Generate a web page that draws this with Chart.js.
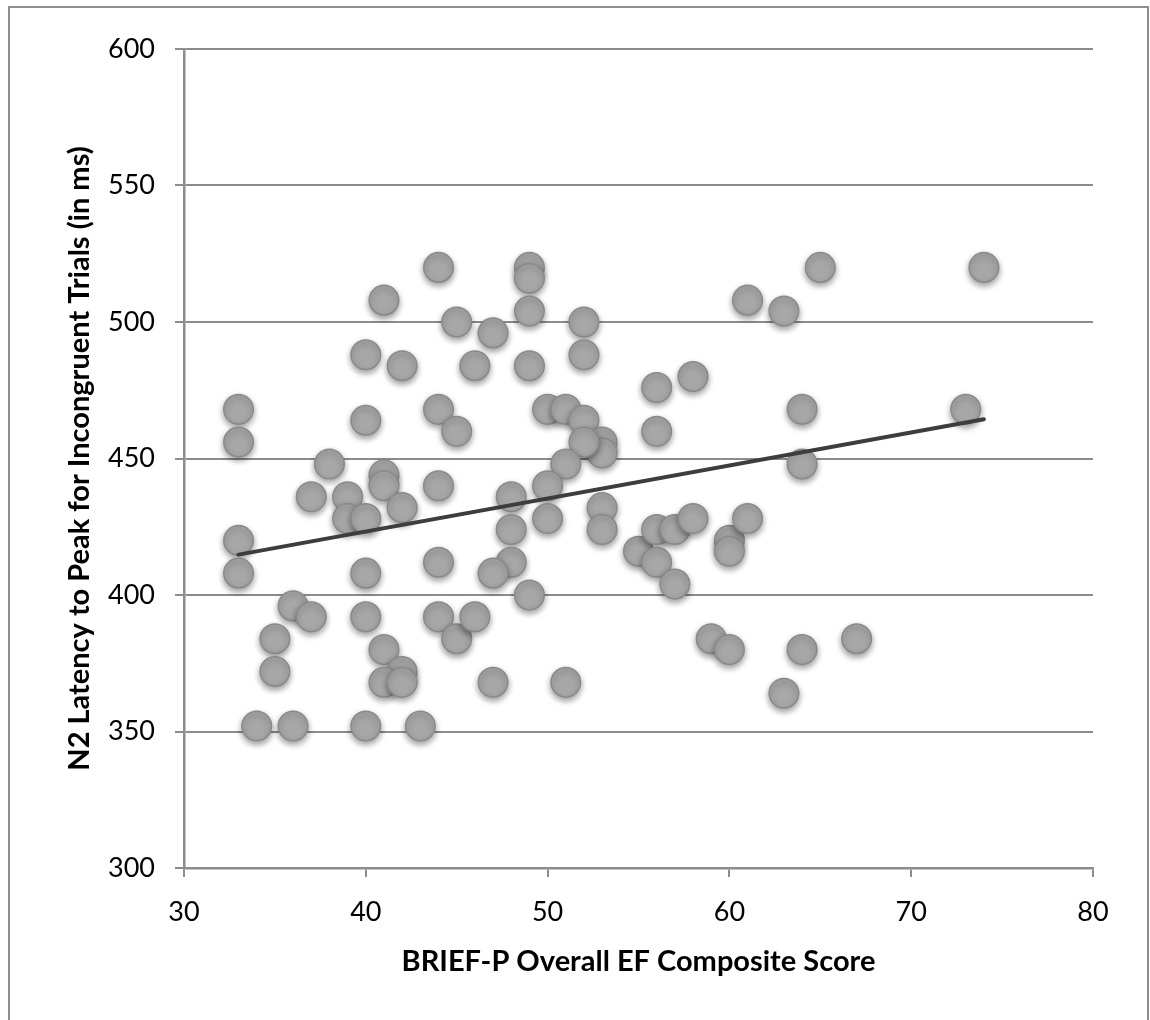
<!DOCTYPE html>
<html><head><meta charset="utf-8">
<script src="https://cdn.jsdelivr.net/npm/chart.js@4/dist/chart.umd.min.js"></script>
<style>
html,body{margin:0;padding:0;background:#fff;overflow:hidden}
#wrap{position:relative;width:1150px;height:1020px}
#frame{position:absolute;left:8px;top:6px;width:1141px;height:1040px;border:2.5px solid #8e8e8e;box-sizing:border-box;pointer-events:none}
canvas{position:absolute;left:0;top:0}
</style></head>
<body><div id="wrap"><canvas id="c" width="1150" height="1020"></canvas><div id="frame"></div></div>
<script>
// BRIEF-P Overall EF Composite Score (x) for each child
const briefScores = [
  44,41,45,40,42,46,33,33,40,44,45,38,37,39,41,41,44,39,40,42,
  33,33,40,44,36,37,35,35,40,41,42,41,42,44,45,46,34,36,40,43,
  49,49,47,49,52,52,49,56,58,50,51,52,53,53,52,56,51,50,48,50,
  53,53,48,48,47,49,55,56,56,57,58,57,47,51,61,63,65,64,64,60,
  60,61,59,60,64,67,63,74,73
];
// N2 latency to peak for incongruent trials (ms), same order
const n2Latency = [
  520,508,500,488,484,484,468,456,464,468,460,448,436,436,444,440,440,428,428,432,
  420,408,408,412,396,392,384,372,392,380,372,368,368,392,384,392,352,352,352,352,
  520,516,496,504,500,488,484,476,480,468,468,464,456,452,456,460,448,440,436,428,
  432,424,424,412,408,400,416,424,412,424,428,404,368,368,508,504,520,468,448,420,
  416,428,384,380,380,384,364,520,468
];
// Linear trend line end points
const trendX = [33, 74];
const trendY = [414.8, 464.4];
// Axis ticks
const xTicks = [30, 40, 50, 60, 70, 80];
const yTicks = [300, 350, 400, 450, 500, 550, 600];

const pointData = briefScores.map((x, i) => ({x: x, y: n2Latency[i]}));
const trendData = trendX.map((x, i) => ({x: x, y: trendY[i]}));

const gridGray = '#8c8c8c';

const shadowPlugin = {
  id: 'shadow',
  beforeDatasetDraw(chart, args) {
    if (args.meta.type === 'scatter') {
      const c = chart.ctx;
      c.save();
      c.shadowColor = 'rgba(0,0,0,0.38)';
      c.shadowBlur = 6;
      c.shadowOffsetX = 0;
      c.shadowOffsetY = 3;
    }
  },
  afterDatasetDraw(chart, args) {
    if (args.meta.type === 'scatter') chart.ctx.restore();
  }
};

new Chart(document.getElementById('c'), {
  data: {
    datasets: [
      {
        type: 'line', label: 'Trend', data: trendData, order: 0,
        borderColor: '#3d3d3d', borderWidth: 4, pointRadius: 0, fill: false,
        borderCapStyle: 'round'
      },
      {
        type: 'scatter', label: 'Children', data: pointData, order: 1,
        backgroundColor: '#a7a7a7', borderColor: '#8a8a8a', borderWidth: 1.5,
        pointRadius: 14.8, pointHoverRadius: 14.8
      }
    ]
  },
  options: {
    responsive: false,
    devicePixelRatio: 1,
    animation: false,
    layout: {padding: {left: 0, right: 57, top: 49, bottom: 0}},
    plugins: {legend: {display: false}, tooltip: {enabled: false}},
    scales: {
      x: {
        type: 'linear', position: 'bottom', min: 30, max: 80,
        afterBuildTicks: s => { s.ticks = xTicks.map(v => ({value: v})); },
        ticks: {font: {family: 'Lato', size: 27}, color: '#000', padding: 19, maxRotation: 0},
        grid: {drawOnChartArea: false, color: gridGray, tickColor: gridGray, tickLength: 9, lineWidth: 2},
        border: {color: gridGray, width: 2.5},
        title: {
          display: true, text: 'BRIEF-P Overall EF Composite Score', color: '#000',
          font: {family: 'Lato', size: 29, weight: 'bold'}, padding: {top: 0, bottom: 41}
        },
        afterFit: s => { s.height = 152; }
      },
      y: {
        type: 'linear', position: 'left', min: 300, max: 600,
        afterBuildTicks: s => { s.ticks = yTicks.map(v => ({value: v})); },
        ticks: {font: {family: 'Lato', size: 27}, color: '#000', padding: 20},
        grid: {color: gridGray, tickColor: gridGray, tickLength: 9, lineWidth: 2},
        border: {color: gridGray, width: 2.5},
        title: {
          display: true, text: 'N2 Latency to Peak for Incongruent Trials (in ms)', color: '#000',
          font: {family: 'Lato', size: 29, weight: 'bold'}, padding: {top: 62, bottom: 0}
        },
        afterFit: s => { s.width = 184; }
      }
    }
  },
  plugins: [shadowPlugin]
});
</script>
</body></html>
